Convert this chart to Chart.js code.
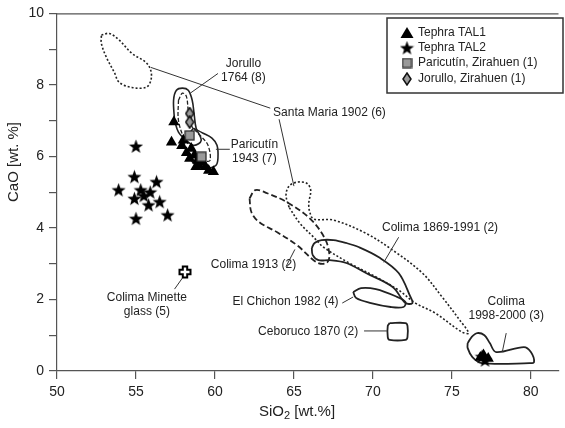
<!doctype html>
<html lang="en">
<head>
<meta charset="utf-8">
<title>CaO vs SiO2</title>
<style>
  html, body { margin: 0; padding: 0; background: #fff; }
  #caixa { width: 565px; height: 428px; }
</style>
</head>
<body>
<div id="caixa"><canvas id="grafico" width="565" height="428"></canvas></div>
<script src="https://cdn.jsdelivr.net/npm/chart.js"></script>
<script>
// ---- data (SiO2, CaO in wt.%) ----
const xTicks = [50, 55, 60, 65, 70, 75, 80];
const yTicks = [0, 1, 2, 3, 4, 5, 6, 7, 8, 9, 10];

const tal1 = [[57.4,6.96],[57.25,6.4],[57.9,6.3],[58.0,6.45],[58.2,6.1],[58.5,6.22],[58.4,5.94],
  [58.7,6.03],[58.9,5.89],[58.8,5.71],[59.0,5.75],[59.2,5.85],[59.4,5.71],[59.6,5.61],[59.9,5.57],
  [77.0,0.45],[76.8,0.38],[77.3,0.35]];
const tal2 = [[55.0,6.28],[54.9,5.43],[53.9,5.06],[55.3,5.06],[56.3,5.29],[54.9,4.82],[55.9,5.0],
  [55.8,4.64],[56.5,4.73],[55.0,4.26],[57.0,4.36],[55.5,4.9],[76.9,0.4],[77.1,0.3]];
const paricutin = [[58.4,6.59],[59.15,5.99]];
const jorullo = [[58.4,7.2],[58.4,6.96]];
const minette = [[58.1,2.77]];

// envelopes
const santaMaria1 = [[52.81,9.39],[53.31,9.44],[53.94,9.25],[54.75,8.88],[55.63,8.63],[55.94,8.4],[55.94,8.12],
  [55.63,7.93],[54.75,7.93],[53.94,8.07],[53.63,8.35],[53.13,8.77],[52.81,9.16],[52.81,9.39]];
const santaMaria2 = [[64.69,4.58],[64.5,4.92],[64.69,5.17],[65.19,5.28],[65.81,5.25],[66.06,5.06],[65.94,4.69],
  [66.0,4.45],[66.25,4.25],[67.5,4.22],[69.56,3.85],[71.25,3.38],[73.13,2.74],[74.38,2.07],[75.5,1.42],
  [76.06,1.06],[75.63,1.09],[73.94,1.62],[72.69,1.9],[71.63,2.26],[70.19,2.63],[68.5,3.02],
  [66.88,3.46],[66.25,3.74],[65.38,4.13],[64.69,4.58]];
const colima1869 = [[66.13,3.44],[66.31,3.58],[66.75,3.66],[67.5,3.66],[68.31,3.58],[69.13,3.46],[70.38,3.18],
  [71.63,2.74],[72.38,2.07],[72.5,1.9],[72.06,1.9],[71.25,2.35],[69.56,2.74],[68.31,3.02],[67.25,3.1],
  [66.56,3.1],[66.19,3.24],[66.13,3.44]];
const colima1913 = [[62.19,4.83],[62.56,5.06],[63.31,4.97],[64.56,4.72],[66.0,4.27],[66.94,3.72],[67.25,3.24],
  [67.06,3.02],[66.44,3.04],[65.19,3.52],[63.94,3.88],[62.81,4.16],[62.31,4.44],[62.19,4.83]];
const elChichon = [[68.75,2.21],[69.25,2.32],[70.19,2.29],[71.44,2.09],[72.06,1.93],[71.94,1.79],[71.13,1.79],
  [69.88,1.9],[68.94,2.04],[68.75,2.21]];
const ceboruco = [[71.06,1.34],[72.06,1.34],[72.19,1.26],[72.19,0.95],[72.06,0.87],[71.06,0.87],[70.94,0.95],
  [70.94,1.26],[71.06,1.34]];
const colima1998 = [[76.0,0.78],[76.25,0.95],[76.6,1.06],[77.06,1.0],[77.4,0.78],[77.8,0.53],[79.56,0.67],
  [80.0,0.53],[80.2,0.25],[79.9,0.22],[76.9,0.22],[76.3,0.39],[76.0,0.64],[76.0,0.78]];
const jorulloEnv = [[57.44,7.01],[57.38,7.57],[57.56,7.85],[57.94,7.91],[58.31,7.85],[58.56,7.57],[58.69,7.15],
  [58.81,6.79],[59.13,6.45],[58.69,6.31],[58.19,6.45],[57.69,6.68],[57.44,7.01]];
const paricutinEnv = [[58.63,6.79],[59.25,6.65],[59.81,6.51],[60.13,6.31],[60.19,5.95],[60.06,5.75],[59.44,5.67],
  [58.81,5.75],[58.31,6.03],[58.06,6.4],[58.63,6.79]];
const innerDashed = [[57.69,7.57],[57.94,7.77],[58.19,7.68],[58.31,7.29],[58.5,6.87],[59.06,6.59],[59.56,6.31],
  [59.69,5.89],[59.31,5.89],[58.69,6.17],[58.06,6.51],[57.69,7.01],[57.69,7.57]];

// annotation texts [text, x, y] and leader lines [x1,y1,x2,y2]
const labels = [
  ['Jorullo', 61.8, 8.6], ['1764 (8)', 61.8, 8.21],
  ['Santa Maria 1902 (6)', 67.25, 7.23],
  ['Paricutín', 62.5, 6.34], ['1943 (7)', 62.5, 5.95],
  ['Colima 1869-1991 (2)', 74.25, 4.02],
  ['Colima 1913 (2)', 62.44, 2.96],
  ['El Chichon 1982 (4)', 64.47, 1.93],
  ['Ceboruco 1870 (2)', 65.9, 1.09],
  ['Colima', 78.44, 1.93], ['1998-2000 (3)', 78.44, 1.56],
  ['Colima Minette', 55.69, 2.04], ['glass (5)', 55.69, 1.65]
];
const leaders = [
  [60.19,8.32,58.44,7.77], [55.94,8.49,63.5,7.35], [64.06,7.04,65.0,5.17],
  [60.06,6.2,60.94,6.2], [71.63,3.74,70.69,3.04], [64.5,2.92,65.06,3.4],
  [68.06,1.9,68.75,2.07], [69.44,1.12,70.88,1.12], [78.44,1.06,78.19,0.53],
  [57.44,2.29,57.94,2.6]
];

const pts = a => a.map(p => ({x: p[0], y: p[1]}));

// marker images
function mk(w, h, draw) {
  const c = document.createElement('canvas');
  c.width = w; c.height = h;
  draw(c.getContext('2d'), w, h);
  return c;
}
const starImg = mk(15, 15, (g, w, h) => {
  g.beginPath();
  for (let i = 0; i < 10; i++) {
    const r = i % 2 ? 3.1 : 7.4;
    const a = -Math.PI / 2 + i * Math.PI / 5;
    g.lineTo(7.5 + r * Math.cos(a), 8 + r * Math.sin(a));
  }
  g.closePath(); g.fillStyle = '#000'; g.fill();
});
const diamondImg = mk(10, 14, (g) => {
  g.beginPath(); g.moveTo(5, 1); g.lineTo(9, 7); g.lineTo(5, 13); g.lineTo(1, 7); g.closePath();
  g.fillStyle = '#9a9a9a'; g.fill(); g.lineWidth = 1.5; g.strokeStyle = '#111'; g.stroke();
});
const squareImg = mk(11, 11, (g) => {
  g.fillStyle = '#9a9a9a'; g.fillRect(1, 1, 9, 9);
  g.lineWidth = 1.2; g.strokeStyle = '#222'; g.strokeRect(1, 1, 9, 9);
});
const plusImg = mk(14, 14, (g) => {
  const a = 2.2, b = 5.5, c = 7;
  g.beginPath();
  g.moveTo(c - a, c - b); g.lineTo(c + a, c - b); g.lineTo(c + a, c - a); g.lineTo(c + b, c - a);
  g.lineTo(c + b, c + a); g.lineTo(c + a, c + a); g.lineTo(c + a, c + b); g.lineTo(c - a, c + b);
  g.lineTo(c - a, c + a); g.lineTo(c - b, c + a); g.lineTo(c - b, c - a); g.lineTo(c - a, c - a);
  g.closePath(); g.fillStyle = '#fff'; g.fill(); g.lineWidth = 2; g.strokeStyle = '#000'; g.stroke();
});

function envelope(data, dash, width) {
  return {
    data: pts(data), showLine: true, pointRadius: 0, borderColor: '#222',
    borderWidth: width, borderDash: dash, tension: 0.35, fill: false, order: 5
  };
}

const legendItems = [
  ['Tephra TAL1', 'triangle'], ['Tephra TAL2', starImg],
  ['Paricutín, Zirahuen (1)', squareImg], ['Jorullo, Zirahuen (1)', diamondImg]
];

const extras = {
  id: 'extras',
  afterDatasetsDraw(chart) {
    const g = chart.ctx, xs = chart.scales.x, ys = chart.scales.y, ca = chart.chartArea;
    g.save();
    // top frame line
    g.strokeStyle = '#555'; g.lineWidth = 1.2;
    g.beginPath(); g.moveTo(ca.left, ca.top + 0.5); g.lineTo(ca.right, ca.top + 0.5); g.stroke();
    // leader lines
    g.strokeStyle = '#333'; g.lineWidth = 1;
    leaders.forEach(l => {
      g.beginPath();
      g.moveTo(xs.getPixelForValue(l[0]), ys.getPixelForValue(l[1]));
      g.lineTo(xs.getPixelForValue(l[2]), ys.getPixelForValue(l[3]));
      g.stroke();
    });
    // labels
    g.font = '12px "Liberation Sans", Arial, sans-serif';
    g.fillStyle = '#222'; g.textAlign = 'center'; g.textBaseline = 'middle';
    labels.forEach(t => g.fillText(t[0], xs.getPixelForValue(t[1]), ys.getPixelForValue(t[2])));
    // legend
    g.fillStyle = '#fff'; g.fillRect(387, 18, 176, 75);
    g.strokeStyle = '#333'; g.lineWidth = 1.5; g.strokeRect(387, 18, 176, 75);
    g.textAlign = 'left'; g.fillStyle = '#222';
    const rows = [33, 48, 63, 79];
    legendItems.forEach((it, i) => {
      const y = rows[i];
      if (it[1] === 'triangle') {
        g.fillStyle = '#000';
        g.beginPath(); g.moveTo(407, y - 6); g.lineTo(413.5, y + 5); g.lineTo(400.5, y + 5); g.closePath(); g.fill();
      } else {
        g.drawImage(it[1], 407 - it[1].width / 2, y - it[1].height / 2);
      }
      g.fillStyle = '#222';
      g.fillText(it[0], 418, y);
    });
    // axis titles
    g.font = '15px "Liberation Sans", Arial, sans-serif';
    g.textAlign = 'center';
    g.save(); g.translate(14, 162); g.rotate(-Math.PI / 2); g.fillText('CaO [wt. %]', 0, 0); g.restore();
    const cx = 297, cy = 412;
    const w1 = g.measureText('SiO').width;
    g.font = '11px "Liberation Sans", Arial, sans-serif';
    const w2 = g.measureText('2').width;
    g.font = '15px "Liberation Sans", Arial, sans-serif';
    const w3 = g.measureText(' [wt.%]').width;
    let x0 = cx - (w1 + w2 + w3) / 2;
    g.textAlign = 'left';
    g.fillText('SiO', x0, cy);
    g.font = '11px "Liberation Sans", Arial, sans-serif';
    g.fillText('2', x0 + w1, cy + 4);
    g.font = '15px "Liberation Sans", Arial, sans-serif';
    g.fillText(' [wt.%]', x0 + w1 + w2, cy);
    g.restore();
  }
};

new Chart(document.getElementById('grafico'), {
  type: 'scatter',
  data: {
    datasets: [
      { label: 'Tephra TAL1', data: pts(tal1), pointStyle: 'triangle', pointRadius: 6.5,
        backgroundColor: '#000', borderColor: '#000', borderWidth: 0, order: 1 },
      { label: 'Tephra TAL2', data: pts(tal2), pointStyle: starImg, order: 1 },
      { label: 'Paricutín, Zirahuen (1)', data: pts(paricutin), pointStyle: squareImg, order: 0 },
      { label: 'Jorullo, Zirahuen (1)', data: pts(jorullo), pointStyle: diamondImg, order: 0 },
      { label: 'Colima Minette glass (5)', data: pts(minette), pointStyle: plusImg, order: 0 },
      envelope(santaMaria1, [2, 2], 1.6),
      envelope(santaMaria2, [2, 2], 1.6),
      envelope(colima1913, [6, 3], 1.8),
      envelope(colima1869, [], 1.8),
      envelope(elChichon, [], 1.8),
      envelope(ceboruco, [], 1.8),
      envelope(colima1998, [], 1.8),
      envelope(jorulloEnv, [], 1.6),
      envelope(paricutinEnv, [], 1.6),
      envelope(innerDashed, [4, 2], 1.3)
    ]
  },
  options: {
    responsive: false,
    animation: false,
    devicePixelRatio: 1,
    layout: { padding: { top: 13, right: 0, left: 0, bottom: 0 } },
    plugins: { legend: { display: false }, tooltip: { enabled: false } },
    scales: {
      x: {
        type: 'linear', min: 50, max: 81.75,
        afterBuildTicks: s => { s.ticks = xTicks.map(v => ({ value: v })); },
        afterFit: s => { s.height = 57; },
        grid: { drawOnChartArea: false, tickLength: 8, color: '#555', lineWidth: 1.2 },
        border: { color: '#555', width: 1.2 },
        ticks: { color: '#222', font: { size: 14, family: '"Liberation Sans", Arial, sans-serif' }, padding: 5 }
      },
      y: {
        min: 0, max: 10,
        afterBuildTicks: s => { s.ticks = yTicks.map(v => ({ value: v })); },
        afterFit: s => { s.width = 57; },
        grid: { drawOnChartArea: false, tickLength: 8, color: '#555', lineWidth: 1.2 },
        border: { color: '#555', width: 1.2 },
        ticks: { color: '#222', font: { size: 14, family: '"Liberation Sans", Arial, sans-serif' }, padding: 5,
          callback: v => (v % 2 === 0 ? v : '') }
      }
    }
  },
  plugins: [extras]
});
</script>
</body>
</html>
